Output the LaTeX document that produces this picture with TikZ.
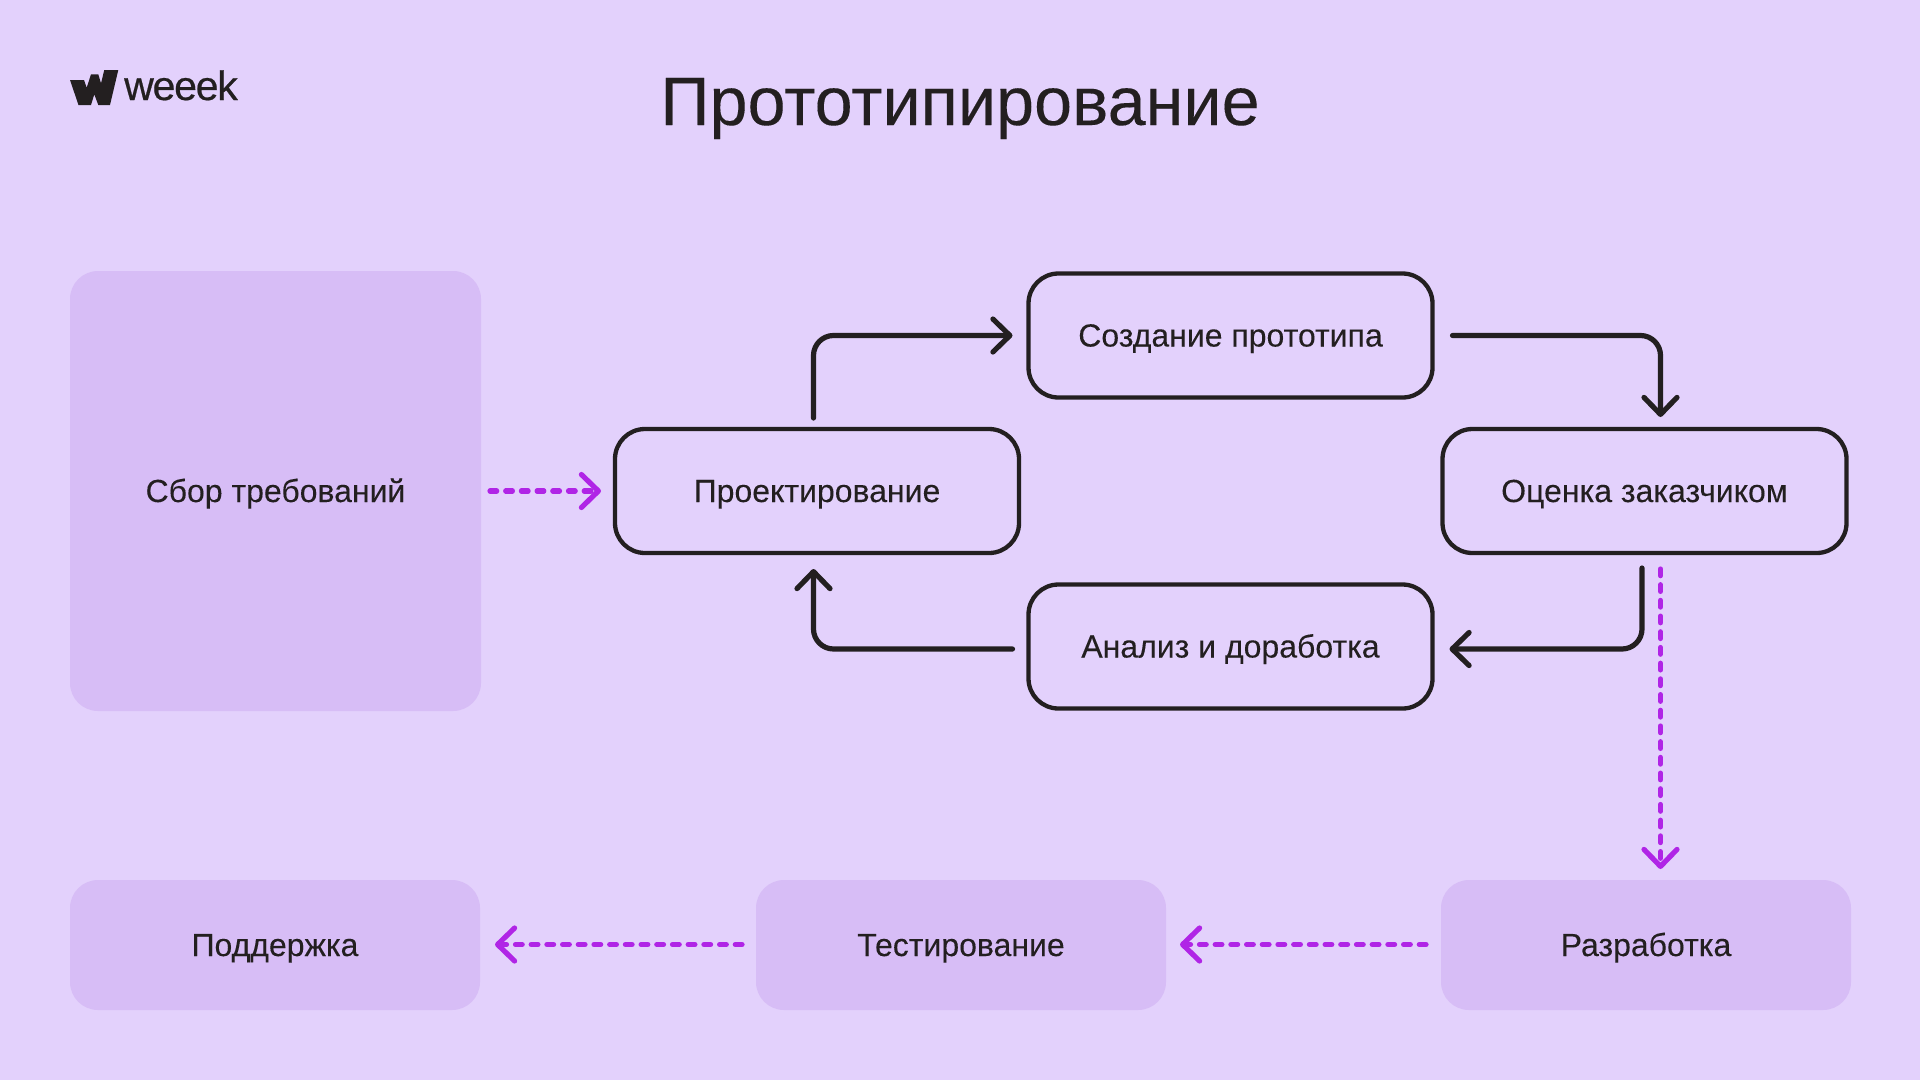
\documentclass[tikz,border=0pt]{standalone}
\usepackage{fontspec}
\setmainfont{Liberation Sans}
\newfontfamily\logofont[FakeBold=0.5,LetterSpace=-3]{Liberation Sans}
\newfontfamily\labelfont[FakeBold=0.12]{Liberation Sans}
\usetikzlibrary{arrows.meta}
\definecolor{bgc}{HTML}{E3D1FC}
\definecolor{boxc}{HTML}{D7BDF6}
\definecolor{inkc}{HTML}{231F20}
\definecolor{magc}{HTML}{B025E6}
\tikzset{
  x=1pt,y=-1pt,
  lbl/.style={text=inkc,font=\labelfont\fontsize{32}{36}\selectfont,text height=22pt,text depth=0pt,inner sep=0pt,outer sep=0pt,align=center},
  softbox/.style={lbl,fill=boxc,rounded corners=28pt},
  linebox/.style={lbl,draw=inkc,line width=4.3pt,rounded corners=30pt,minimum width=404pt,minimum height=124pt},
  chev/.tip={Straight Barb[length=17pt,width=33pt,round]},
  flow/.style={draw=inkc,line width=5.2pt,line cap=round,rounded corners=20pt,-{chev}},
  dflow/.style={draw=magc,line width=5.2pt,line cap=round,dash pattern=on 6.7pt off 9pt,-{Straight Barb[length=17pt,width=33pt,round,sep=0pt,line cap=round]}}
}
\begin{document}
\begin{tikzpicture}
\useasboundingbox (0,0) rectangle (1920,1080);
\fill[bgc] (0,0) rectangle (1920,1080);
% logo
\fill[inkc] (70,80) -- (84,80) -- (86.7,87.7) -- (91,74.3) -- (98.3,74.3) -- (101,83.3) -- (104.3,70) -- (118.3,70) -- (110,105) -- (98.3,105) -- (94.3,94.3) -- (91,105) -- (78.5,105) -- cycle;
\node[anchor=base west,inner sep=0pt,text=inkc,font=\logofont\fontsize{41}{41}\selectfont] (logo) at (124,100) {weeek};
% title
\node[anchor=base,inner sep=0pt,text=inkc,font=\labelfont\fontsize{68.4}{72}\selectfont] (title) at (960,125) {Прототипирование};
% nodes
\node[softbox,minimum width=411pt,minimum height=440pt] (sbor) at (275.5,491) {Сбор требований};
\node[linebox] (proj) at (817,491) {Проектирование};
\node[linebox] (sozd) at (1230.5,335.5) {Создание прототипа};
\node[linebox] (ocen) at (1644.5,491) {Оценка заказчиком};
\node[linebox] (anal) at (1230.5,646.5) {Анализ и доработка};
\node[softbox,minimum width=410pt,minimum height=130pt] (podd) at (275,945) {Поддержка};
\node[softbox,minimum width=410pt,minimum height=130pt] (test) at (961,945) {Тестирование};
\node[softbox,minimum width=410pt,minimum height=130pt] (razr) at (1646,945) {Разработка};
% connectors
\draw[flow] ([shift={(-3.5,-11)}]proj.north) |- ([xshift=-16pt]sozd.west);
\draw[flow] ([xshift=20pt]sozd.east) -| ([shift={(16,-12)}]ocen.north);
\draw[flow] ([shift={(-2.5,15)}]ocen.south) |- ([shift={(17,2.5)}]anal.east);
\draw[flow] ([shift={(-16,2.5)}]anal.west) -| ([shift={(-3.5,16)}]proj.south);
\draw[dflow] ([xshift=9pt]sbor.east) -- ([xshift=-14pt]proj.west);
\draw[dflow] ([shift={(16,16)}]ocen.south) -- ([shift={(14.5,-11)}]razr.north);
\draw[dflow] ([shift={(-15,-0.5)}]razr.west) -- ([shift={(14,-0.5)}]test.east);
\draw[dflow] ([shift={(-14,-0.5)}]test.west) -- ([shift={(15,-0.5)}]podd.east);
\end{tikzpicture}
\end{document}
